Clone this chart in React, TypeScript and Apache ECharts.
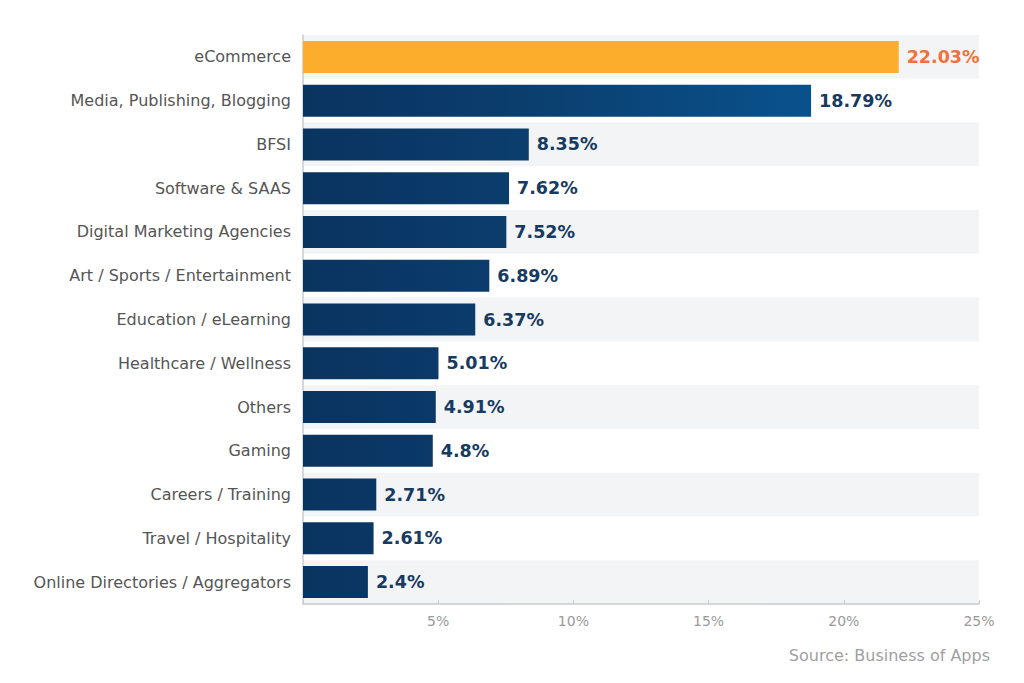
import React, { useEffect, useRef } from "react";
import * as echarts from "echarts";

const categories = [
  "eCommerce",
  "Media, Publishing, Blogging",
  "BFSI",
  "Software & SAAS",
  "Digital Marketing Agencies",
  "Art / Sports / Entertainment",
  "Education / eLearning",
  "Healthcare / Wellness",
  "Others",
  "Gaming",
  "Careers / Training",
  "Travel / Hospitality",
  "Online Directories / Aggregators",
];
const values = [22.03, 18.79, 8.35, 7.62, 7.52, 6.89, 6.37, 5.01, 4.91, 4.8, 2.71, 2.61, 2.4];
const xTicks = [0, 5, 10, 15, 20, 25];
const sourceText = "Source: Business of Apps";

const FONT = "'DejaVu Sans', 'Open Sans', sans-serif";

export default function App() {
  const ref = useRef<HTMLDivElement>(null);
  useEffect(() => {
    if (!ref.current) return;
    const chart = echarts.init(ref.current, null, { renderer: "svg" });
    const navy = new echarts.graphic.LinearGradient(
      303, 0, 980, 0,
      [
        { offset: 0, color: "#0a3360" },
        { offset: 0.3, color: "#0b3d6c" },
        { offset: 1, color: "#085d9e" },
      ],
      true
    );
    chart.setOption({
      animation: false,
      backgroundColor: "#ffffff",
      grid: { left: 303, right: 45, top: 35, bottom: 79, containLabel: false },
      xAxis: {
        type: "value",
        min: xTicks[0],
        max: xTicks[xTicks.length - 1],
        interval: 5,
        axisLine: { show: true, lineStyle: { color: "#c8ccd0", width: 1.5 } },
        axisTick: { show: true, inside: true, length: 4, lineStyle: { color: "#c8ccd0" } },
        splitLine: { show: false },
        axisLabel: {
          color: "#9a9a9a",
          fontSize: 14,
          fontFamily: FONT,
          margin: 10,
          formatter: (v: number) => (v === 0 ? "" : v + "%"),
        },
      },
      yAxis: {
        type: "category",
        data: categories,
        inverse: true,
        axisLine: { show: true, lineStyle: { color: "#c8ccd0", width: 1.5 } },
        axisTick: { show: false },
        axisLabel: { color: "#555555", fontSize: 16, fontFamily: FONT, margin: 12 },
        splitArea: { show: true, areaStyle: { color: ["#f2f4f6", "#ffffff"] } },
      },
      series: [
        {
          type: "bar",
          data: values.map((v, i) => ({
            value: v,
            itemStyle: { color: i === 0 ? "#fcad2b" : navy },
            label: { color: i === 0 ? "#f2713a" : "#173a60" },
          })),
          barWidth: 32,
          label: {
            show: true,
            position: "right",
            distance: 8,
            fontSize: 17.5,
            fontWeight: "bold",
            fontFamily: FONT,
            formatter: (p: any) => p.value + "%",
          },
        },
      ],
      graphic: [
        {
          type: "text",
          right: 34,
          top: 647,
          style: { text: sourceText, fill: "#a0a0a0", fontSize: 16, fontFamily: FONT },
        },
      ],
    });
    return () => chart.dispose();
  }, []);
  return <div ref={ref} style={{ width: 1024, height: 683, margin: -8 }} />;
}
